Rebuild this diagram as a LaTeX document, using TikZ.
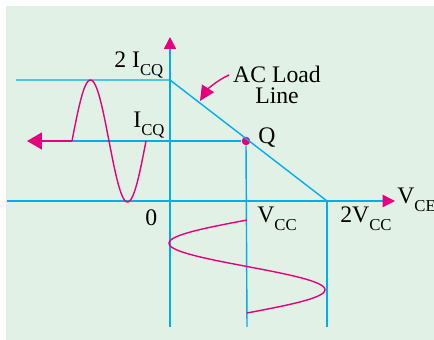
\documentclass[tikz,border=0pt]{standalone}
\usepackage{fontspec}
\setmainfont{Liberation Serif}
\usetikzlibrary{arrows.meta}
\definecolor{bgcol}{RGB}{226,241,230}
\definecolor{axcol}{RGB}{0,174,239}
\definecolor{wavecol}{RGB}{230,0,126}
\newcommand{\lowsub}[1]{\raisebox{-4.5pt}{\fontsize{9.5}{10}\selectfont #1}}
\begin{document}
\begin{tikzpicture}[x=0.02cm, y=-0.02cm,
  axis/.style={draw=axcol, line width=0.8pt},
  wave/.style={draw=wavecol, line width=0.8pt},
  lbl/.style={anchor=base west, inner sep=0pt, font=\fontsize{13.5}{15}\selectfont},
  tip/.style={-{Triangle[length=#1, width=#1, color=wavecol]}}
]
\useasboundingbox (0,0) rectangle (434,340);
\fill[bgcol] (6,6) rectangle (434,340);
% points of the load line
\coordinate (O)    at (170,201);
\coordinate (top)  at (170,80);
\coordinate (vcc)  at (247,201);
\coordinate (vcc2) at (327,201);
\node[circle, fill=wavecol, inner sep=0pt, minimum size=0.17cm] (Q) at (246,141) {};
% axes and guide lines
\draw[axis, tip=0.24cm] (170,327) -- (170,37);
\draw[axis, tip=0.25cm] (7,201) -- (395,201);
\draw[axis] (16,80) -- (top) -- (vcc2);
\draw[axis] (42,141) -- (Q);
\draw[axis] (Q) -- (247,327);
\draw[axis] (vcc2) -- (327,327);
% input current wave
\draw[wave, -{Triangle[length=0.3cm, width=0.34cm]}] (72,141) -- (27,141);
\draw[wave] plot[domain=72:146, samples=80, variable=\pp]
  ({\pp}, {141-61*sin((\pp-72)/74*360)});
% output voltage wave
\draw[wave] plot[domain=220:313, samples=80, variable=\pp]
  ({247-78*sin((\pp-220)/93*360)}, {\pp});
% labels
\node[lbl] (l2icq) at (114,68)  {2 I\lowsub{CQ}};
\node[lbl, anchor=base, align=center, font=\fontsize{13.5}{12}\selectfont]
  (lload) at (277,104) {AC Load\\Line};
\node[lbl] (licq)  at (133,128) {I\lowsub{CQ}};
\node[lbl] (lq)    at (258,144) {Q};
\node[lbl] (lzero) at (145,226) {0};
\node[lbl] (lvcc)  at (257,223) {V\lowsub{CC}};
\node[lbl] (l2vcc) at (340,223) {2V\lowsub{CC}};
\node[lbl] (lvce)  at (397,204) {V\lowsub{CE}};
% pointer to load line
\draw[wave, -{Triangle[length=0.3cm, width=0.28cm]}] (229,75) .. controls (216,81) and (207,90) .. (200,101);
\end{tikzpicture}
\end{document}
